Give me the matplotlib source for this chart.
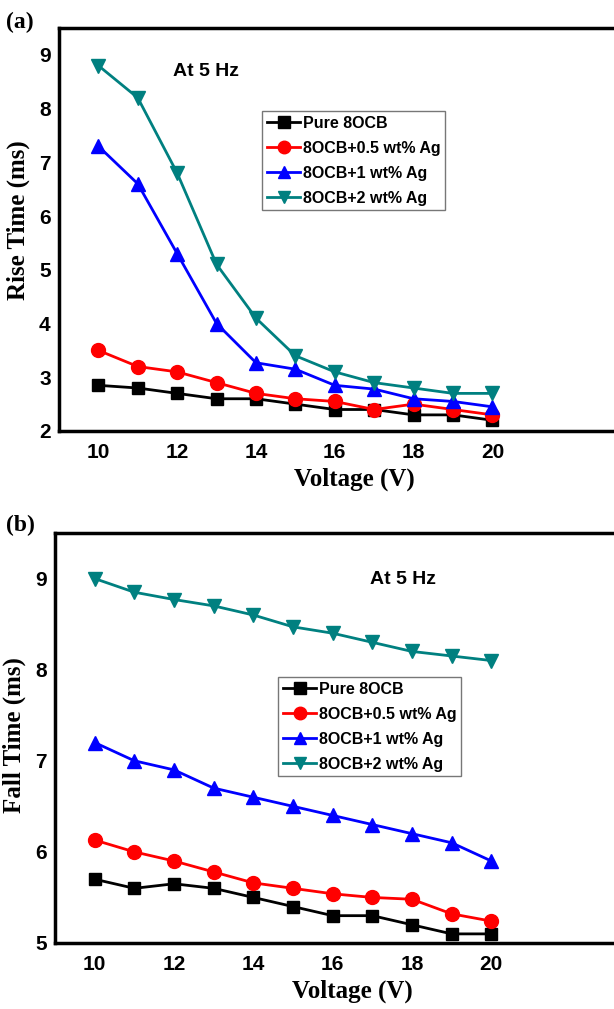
import matplotlib
matplotlib.use("Agg")
import matplotlib.pyplot as plt

# ---------------------------------------------------------------------------
# Data
# ---------------------------------------------------------------------------
voltage = [10, 11, 12, 13, 14, 15, 16, 17, 18, 19, 20]

series_names = ["Pure 8OCB", "8OCB+0.5 wt% Ag", "8OCB+1 wt% Ag", "8OCB+2 wt% Ag"]

rise_pure = [2.85, 2.80, 2.70, 2.60, 2.60, 2.50, 2.40, 2.40, 2.30, 2.30, 2.20]
rise_05   = [3.50, 3.20, 3.10, 2.90, 2.70, 2.60, 2.55, 2.40, 2.50, 2.40, 2.30]
rise_1    = [7.30, 6.60, 5.30, 4.00, 3.27, 3.15, 2.85, 2.78, 2.60, 2.55, 2.45]
rise_2    = [8.80, 8.20, 6.80, 5.10, 4.10, 3.40, 3.10, 2.90, 2.80, 2.70, 2.70]

fall_pure = [5.70, 5.60, 5.65, 5.60, 5.50, 5.40, 5.30, 5.30, 5.20, 5.10, 5.10]
fall_05   = [6.13, 6.00, 5.90, 5.78, 5.66, 5.60, 5.54, 5.50, 5.48, 5.32, 5.24]
fall_1    = [7.20, 7.00, 6.90, 6.70, 6.60, 6.50, 6.40, 6.30, 6.20, 6.10, 5.90]
fall_2    = [9.00, 8.85, 8.77, 8.70, 8.60, 8.47, 8.40, 8.30, 8.20, 8.15, 8.10]

x_ticks = [10, 12, 14, 16, 18, 20]
rise_ticks = [2, 3, 4, 5, 6, 7, 8, 9]
fall_ticks = [5, 6, 7, 8, 9]

# ---------------------------------------------------------------------------
# Styling
# ---------------------------------------------------------------------------
colors  = ["#000000", "#ff0000", "#0000ff", "#008080"]
markers = ["s", "o", "^", "v"]
msizes  = [9, 10, 10, 10]

W, H = 614, 1009
fig = plt.figure(figsize=(W / 100, H / 100), dpi=100)

SANS = "Liberation Sans"
SERIF = "Liberation Serif"


def px_axes(left, top, right, bottom):
    """Axes from pixel box (origin top-left)."""
    return fig.add_axes([left / W, 1 - bottom / H, (right - left) / W, (bottom - top) / H])


def draw_panel(ax, series, ylim, yticks, ylabel, ylabel_xy, legend_xy, note_xy, tag, tag_xy):
    for vals, name, c, m, ms in zip(series, series_names, colors, markers, msizes):
        ax.plot(voltage, vals, color=c, marker=m, markersize=ms, lw=2, label=name)

    ax.set_xlim(9, 24)
    ax.set_ylim(*ylim)
    ax.set_xticks(x_ticks)
    ax.set_yticks(yticks)
    ax.tick_params(axis="y", length=0, pad=6)
    ax.tick_params(axis="x", length=0, pad=9)
    for lab in ax.get_xticklabels() + ax.get_yticklabels():
        lab.set_fontfamily(SANS)
        lab.set_fontweight("bold")
        lab.set_fontsize(15)
    for s in ax.spines.values():
        s.set_linewidth(2.5)
    ax.spines["right"].set_visible(False)

    ax.set_xlabel("Voltage (V)", fontfamily=SERIF, fontweight="bold", fontsize=18, labelpad=4)
    ax.set_ylabel(ylabel, fontfamily=SERIF, fontweight="bold", fontsize=18)
    ax.yaxis.set_label_coords(ylabel_xy[0] / W, 1 - ylabel_xy[1] / H, transform=fig.transFigure)

    leg = ax.legend(loc="upper left", bbox_to_anchor=(legend_xy[0] / W, 1 - legend_xy[1] / H),
                    bbox_transform=fig.transFigure, borderaxespad=0,
                    prop={"family": SANS, "weight": "bold", "size": 11.5},
                    frameon=True, fancybox=False, edgecolor="#555555",
                    handlelength=2.1, handletextpad=0.15, labelspacing=0.62,
                    borderpad=0.3, markerscale=0.9)
    leg.get_frame().set_linewidth(1.0)

    fig.text(note_xy[0] / W, 1 - note_xy[1] / H, "At 5 Hz", fontfamily=SANS,
             fontweight="bold", fontsize=14, ha="left", va="center")
    fig.text(tag_xy[0] / W, 1 - tag_xy[1] / H, tag, fontfamily=SERIF,
             fontweight="bold", fontsize=17, ha="left", va="center")


ax_a = px_axes(59, 28, 650, 431)
draw_panel(ax_a, [rise_pure, rise_05, rise_1, rise_2], (2, 9.5), rise_ticks,
           "Rise Time (ms)", (30, 220), (262, 111), (173, 72), "(a)", (6, 22))

ax_b = px_axes(55, 533, 650, 943)
draw_panel(ax_b, [fall_pure, fall_05, fall_1, fall_2], (5, 9.5), fall_ticks,
           "Fall Time (ms)", (26, 735), (278, 677), (370, 580), "(b)", (6, 525))

fig.savefig("out.png", dpi=100)
